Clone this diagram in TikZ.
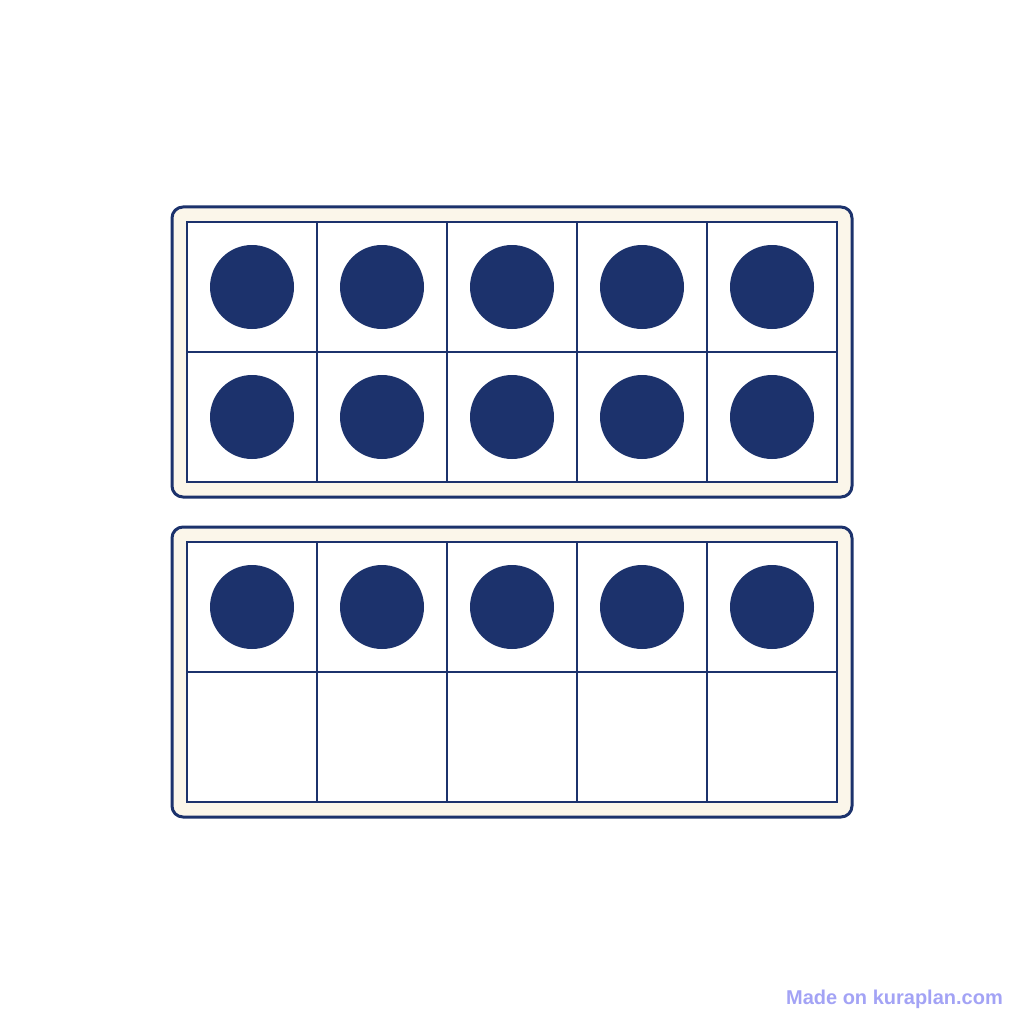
\documentclass[tikz,border=0pt]{standalone}
\usepackage{fontspec}
\setmainfont{Liberation Sans}
\definecolor{navy}{HTML}{1C326C}
\definecolor{cream}{HTML}{FBF6EA}
\definecolor{wm}{HTML}{A3A3F5}
\begin{document}
\begin{tikzpicture}[x=1pt,y=-1pt,
  frame/.style={draw=navy,line width=3pt,fill=cream,rounded corners=11pt},
  cell/.style={draw=navy,line width=2.2pt,fill=white},
  counter/.style={circle,fill=navy,minimum size=84pt,inner sep=0pt}]
\useasboundingbox (0,0) rectangle (1024,1024);
\foreach \f/\y/\n in {0/207/10,1/527/5} {
  \draw[frame] (172,\y) rectangle (852,\y+290);
  \foreach \c in {0,...,4} {
    \foreach \r in {0,1} {
      \draw[cell] (187+130*\c,\y+15+130*\r) rectangle (187+130*\c+130,\y+15+130*\r+130);
    }
  }
  \foreach \c in {0,...,4} {
    \foreach \r in {0,1} {
      \pgfmathtruncatemacro{\k}{\r*5+\c+1}
      \ifnum\k>\n\else
        \node[counter] (d\f-\r-\c) at (252+130*\c,\y+80+130*\r) {};
      \fi
    }
  }
}
\node[anchor=east,text=wm,font=\bfseries\fontsize{20}{22}\selectfont,inner sep=0pt] (wmark) at (1003,999) {Made on kuraplan.com};
\end{tikzpicture}
\end{document}
